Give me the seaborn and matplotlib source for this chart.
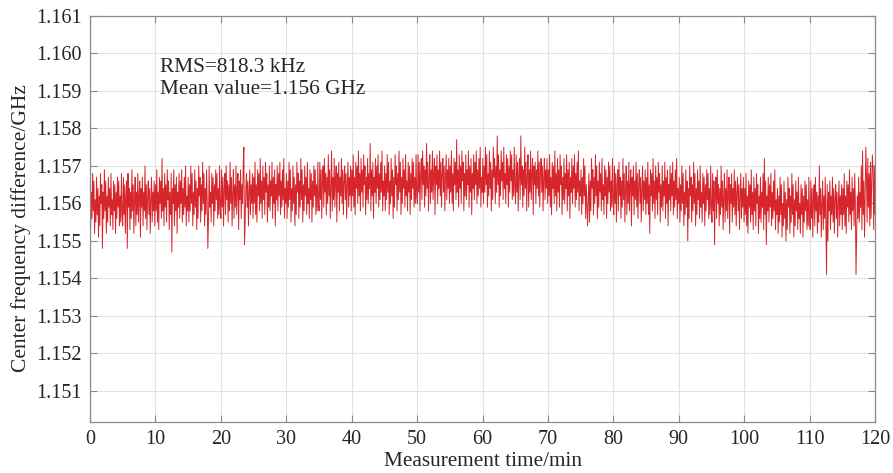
import numpy as np
import pandas as pd
import matplotlib
matplotlib.use("Agg")
import matplotlib.pyplot as plt
import seaborn as sns

# deviation from 1.156 GHz in units of 0.1 MHz (10 samples / min)
dev_100khz = [
    5, -7, 3, -4, 8, -2, 6, -8, 1, -5, 7, -3, 4, -9, 2, -6, 8, 0, 5, -12, 3, -4, 9, -2, 6, -8, 2, -5, 7, -1, 4, -6, 8, -3, 1, -7, 6, -2, 5, -8, 3, -4, 7, -1, 6, -6, 2, -5, 8, -3,
    -6, 7, -3, 5, -8, 2, 6, -12, 8, -1, 4, -7, 3, -4, 9, -2, 5, -8, 1, 7, -6, 3, -3, 8, -5, 2, 6, -9, 4, -1, 7, -6, 3, -2, 10, -4, 5, -7, 2, 6, -3, 4, -8, 1, 7, -5, 3, -2, 6, -6,
    5, -2, 9, -5, 3, -7, 7, 0, 6, -4, 12, -2, 4, -6, 8, -1, 5, -5, 9, 1, 6, -7, 3, -3, 8, -13, 4, 0, 9, -6, 5, -2, 7, -8, 3, -1, 8, -4, 6, 0, 9, -5, 4, -3, 7, -1, 10, -6, 2, -2,
    7, -5, 5, -2, 10, 0, 8, -6, 3, -3, 9, -1, 6, -7, 4, -4, 10, 2, 7, -5, 5, -2, 11, 0, 8, -6, 4, -3, 9, 1, -12, -4, 10, -1, 3, -5, 8, 0, 7, -6, 5, -2, 9, 1, 8, -4, 4, -3, 10, -1,
    -4, 9, -1, 7, -6, 4, 8, -3, 10, 1, 6, -5, 5, -2, 11, 0, 7, -6, 3, 9, -4, 5, -1, 10, -3, 4, 8, -7, 6, 1, 9, -4, 5, 0, 10, 15, -11, -5, 4, 8, -1, 6, -6, 3, 9, -3, 5, 0, 8, -4,
    7, 0, 11, -3, 5, -5, 9, 2, 8, -2, 12, 0, 6, -4, 10, 1, 7, -3, 11, 3, 8, -5, 5, -1, 10, -2, 6, 2, 11, -4, 7, 0, 9, -6, 5, 1, 10, -2, 8, 2, 11, -3, 6, -1, 9, 1, 12, -4, 4, 0,
    8, -4, 6, -1, 11, 1, 9, -5, 4, -2, 10, 0, 7, -6, 5, -3, 11, 3, 8, -4, 6, -1, 12, 1, 9, -5, 5, -2, 10, 2, 7, -3, 11, 0, 4, -4, 9, 1, 8, -5, 6, -1, 10, 2, 9, -3, 5, -2, 11, 0,
    -2, 11, 1, 9, -4, 6, 10, -1, 12, 3, 8, -3, 7, 0, 13, 2, 9, -4, 5, 14, -2, 7, 1, 12, -1, 6, 10, -5, 8, 3, 11, -2, 7, 2, 12, 0, 9, -3, 6, 10, 1, 8, -4, 5, 11, -1, 7, 2, 10, -2,
    9, 2, 13, -1, 7, -3, 11, 4, 10, 0, 14, 2, 8, -2, 12, 3, 9, -1, 13, 5, 10, -3, 7, 1, 12, 0, 8, 4, 16, -2, 9, 2, 11, -4, 7, 3, 12, 0, 10, 4, 13, -1, 8, 1, 11, 3, 14, -2, 6, 2,
    10, -2, 8, 1, 13, 3, 11, -3, 6, 0, 12, 2, 9, -4, 7, -1, 13, 5, 10, -2, 8, 1, 14, 3, 11, -3, 7, 0, 12, 4, 9, -1, 13, 2, 6, -2, 11, 3, 10, -3, 8, 1, 12, 4, 11, -1, 7, 0, 13, 2,
    0, 13, 3, 11, -2, 8, 12, 1, 14, 5, 10, -1, 9, 2, 16, 4, 11, -2, 7, 13, 0, 9, 3, 14, 1, 8, 12, -3, 10, 5, 13, 0, 9, 4, 14, 2, 11, -1, 8, 12, 3, 10, -2, 7, 13, 1, 9, 4, 12, 0,
    10, 3, 14, 0, 8, -2, 12, 5, 11, 1, 17, 3, 9, -1, 13, 4, 10, 0, 14, 6, 11, -2, 8, 2, 13, 1, 9, 5, 14, -1, 10, 3, 12, -3, 8, 4, 13, 1, 11, 5, 14, 0, 9, 2, 12, 4, 15, -1, 7, 3,
    12, 0, 10, 3, 15, 5, 13, -1, 8, 2, 14, 4, 11, -2, 9, 1, 15, 7, 12, 0, 10, 3, 18, 5, 13, -1, 9, 2, 14, 6, 11, 1, 15, 4, 8, 0, 13, 5, 12, -1, 10, 3, 14, 6, 13, 1, 9, 2, 15, 4,
    0, 13, 3, 11, -2, 8, 12, 1, 18, 5, 10, -1, 9, 2, 15, 4, 11, -2, 7, 13, -1, 9, 3, 14, 1, 8, 12, -3, 10, 5, 11, 0, 9, 4, 14, 2, 11, -1, 8, 12, 3, 10, -2, 7, 12, 1, 9, 4, 12, 0,
    9, 2, 13, -1, 7, -3, 11, 4, 10, 0, 14, 2, 8, -2, 12, 3, 9, -1, 13, 5, 10, -3, 7, 1, 12, 0, 8, 4, 13, -2, 9, 2, 11, -4, 7, 3, 12, 0, 10, 4, 13, -1, 8, 1, 11, 3, 14, -2, 6, 2,
    9, -3, 7, 0, 12, 2, 10, -4, 5, -1, -6, 1, 8, -5, 6, -2, 12, 4, 9, -3, 7, 0, 13, 2, 10, -4, 6, -1, 11, 3, 8, -2, 12, 1, 5, -3, 10, 2, 9, -4, 7, 0, 11, 3, 10, -2, 6, -1, 12, 1,
    -3, 10, 0, 8, -5, 5, 9, -2, 11, 2, 7, -4, 6, -1, 12, 1, 8, -5, 4, 10, -3, 6, 0, 11, -2, 5, 9, -6, 7, 2, 10, -3, 6, 1, 11, -1, 8, -4, 5, 9, 0, 7, -5, 4, 10, -2, 6, 1, 9, -3,
    7, 0, 11, -3, 5, -8, 9, 2, 8, -2, 12, 0, 6, -4, 10, 1, 7, -3, 11, 3, 8, -5, 5, -1, 10, -2, 6, 2, 11, -4, 7, 0, 9, -6, 5, 1, 10, -2, 8, 2, 11, -3, 6, -1, 9, 1, 12, -4, 4, 0,
    7, -5, 5, -2, 10, 0, 8, -6, 3, -3, 9, -1, 6, -10, 4, -4, 10, 2, 7, -5, 5, -2, 11, 0, 8, -6, 4, -3, 9, 1, 6, -4, 10, -1, 3, -5, 8, 0, 7, -6, 5, -2, 9, 1, 8, -4, 4, -3, 10, -1,
    -5, 8, -2, 6, -11, 3, 7, -4, 9, 0, 5, -6, 4, -3, 10, -1, 6, -7, 2, 8, -5, 4, -2, 9, -4, 3, 7, -8, 5, 0, 8, -5, 4, -1, 9, -3, 6, -6, 3, 7, -2, 5, -7, 2, 8, -4, 4, -1, 7, -5,
    4, -3, 8, -6, 2, -8, 6, -1, 5, -5, 9, -3, 3, -7, 7, -2, 4, -6, 8, 0, 5, -8, 2, -4, 7, -5, 3, -1, 8, -7, 12, -3, 6, -11, 2, -2, 7, -5, 5, -1, 8, -6, 3, -4, 6, -2, 9, -7, 1, -3,
    4, -8, 2, -5, 7, -3, 5, -9, 0, -6, 6, -4, 3, -10, 1, -7, 7, -1, 4, -8, 2, -5, 8, -3, 5, -9, 1, -6, 6, -2, 3, -7, 7, -4, 0, -8, 5, -3, 4, -9, 2, -5, 6, -2, 5, -7, 1, -6, 7, -4,
    -7, 6, -4, 4, -9, 1, 5, -6, 7, -2, 3, -8, 2, -5, 10, -3, 4, -9, 0, 6, -7, 2, -4, 7, -6, -19, 5, -10, 3, -2, 6, -7, 2, -3, 7, -5, 4, -8, 1, 5, -4, 3, -9, 0, 6, -6, 2, -3, 5, -7,
    4, -3, 8, -6, 2, -8, 6, -1, 5, -5, 9, -3, 3, -7, 7, -2, 4, -6, 8, 0, -19, -8, 2, -4, 7, -5, 3, -1, 10, -7, 14, -3, 6, -9, 2, 15, 7, -5, 12, -1, 8, -6, 11, -4, 6, 13, 9, -7, 10, -3,
]
x_ticks = [0, 10, 20, 30, 40, 50, 60, 70, 80, 90, 100, 110, 120]
y_ticks = [1.151, 1.152, 1.153, 1.154, 1.155, 1.156, 1.157, 1.158, 1.159, 1.160, 1.161]
rms_text = "RMS=818.3 kHz"
mean_text = "Mean value=1.156 GHz"

sns.set_theme(style="whitegrid")
plt.rcParams["font.family"] = ["Liberation Serif", "DejaVu Serif"]

df = pd.DataFrame({
    "time": np.linspace(0, 120, len(dev_100khz)),
    "freq": 1.156 + np.array(dev_100khz) * 1e-4,
})

fig = plt.figure(figsize=(8.93, 4.73), dpi=100)
ax = fig.add_axes([90 / 893, 1 - 422 / 473, 785 / 893, 406 / 473])

sns.lineplot(data=df, x="time", y="freq", ax=ax, color="#d7262b",
             linewidth=0.7, estimator=None, sort=False)

ax.set_xlim(0, 120)
ax.set_ylim(1.15017, 1.161)
ax.set_xticks(x_ticks)
ax.set_yticks(y_ticks)
ax.set_yticklabels([f"{v:.3f}" for v in y_ticks])
ax.grid(True, color="#e3e3e3", linewidth=0.8)
for s in ax.spines.values():
    s.set_color("#8a8a8a")
    s.set_linewidth(0.9)
ax.tick_params(axis="both", direction="in", length=5, width=0.8, color="#8a8a8a",
               labelsize=14.5, labelcolor="#262626", top=True, right=True,
               bottom=True, left=True, pad=6)

ax.set_xlabel("Measurement time/min", fontsize=15.3, color="#262626", labelpad=2)
ax.set_ylabel("Center frequency difference/GHz", fontsize=15.5, color="#262626")
ax.yaxis.set_label_coords(-0.075, 0.478)

ax.text(0.089, 0.872, rms_text, transform=ax.transAxes, fontsize=15.3,
        color="#262626", va="center", ha="left")
ax.text(0.089, 0.818, mean_text, transform=ax.transAxes, fontsize=15.3,
        color="#262626", va="center", ha="left")

fig.savefig("out.png", dpi=100)
